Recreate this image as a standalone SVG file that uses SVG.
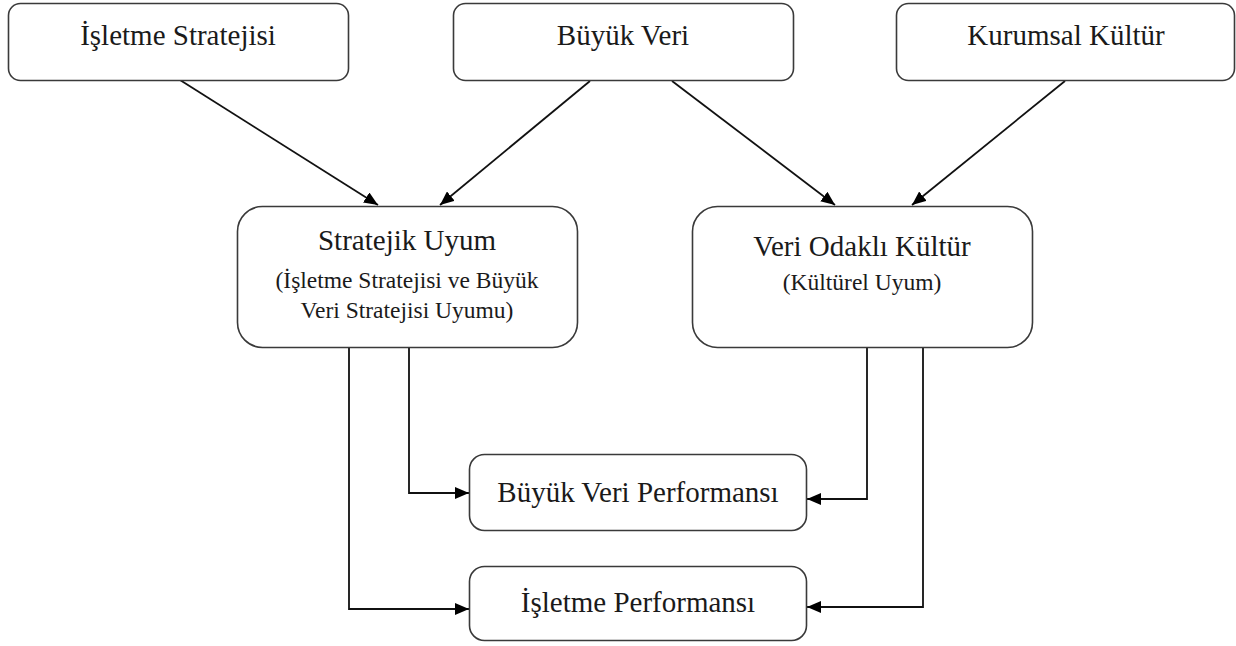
<svg xmlns="http://www.w3.org/2000/svg" width="1236" height="646" viewBox="0 0 1236 646">
<defs>
<style>
.box{fill:#fff;stroke:#3a3a3a;stroke-width:1.6}
.t{font-family:"Liberation Serif","Times New Roman",serif;fill:#1a1a1a;text-anchor:middle}
.big{font-size:29px}
.small{font-size:23.5px}
.c{fill:none;stroke:#111;stroke-width:1.8}
</style>
<marker id="ah" viewBox="0 0 14 12" refX="14" refY="6" markerWidth="14" markerHeight="12" markerUnits="userSpaceOnUse" orient="auto">
<path d="M0,0 L14,6 L0,12 z" fill="#000"/>
</marker>
</defs>
<rect width="1236" height="646" fill="#fff"/>
<g id="connectors">
<path class="c" d="M180,80 L378,205" marker-end="url(#ah)"/>
<path class="c" d="M590,81 L440,205" marker-end="url(#ah)"/>
<path class="c" d="M672,81 L835,205" marker-end="url(#ah)"/>
<path class="c" d="M1065,81 L912,205" marker-end="url(#ah)"/>
<path class="c" d="M409,348 L409,493 L469,493" marker-end="url(#ah)"/>
<path class="c" d="M349,348 L349,609 L469,609" marker-end="url(#ah)"/>
<path class="c" d="M867,348 L867,499 L807,499" marker-end="url(#ah)"/>
<path class="c" d="M923,348 L923,607 L807,607" marker-end="url(#ah)"/>
</g>
<g id="isletme-stratejisi">
<rect class="box" x="8.5" y="3.5" width="340" height="77" rx="12"/>
<text class="t big" x="178" y="45">İşletme Stratejisi</text>
</g>
<g id="buyuk-veri">
<rect class="box" x="453.5" y="3.5" width="340" height="77" rx="12"/>
<text class="t big" x="623" y="45">Büyük Veri</text>
</g>
<g id="kurumsal-kultur">
<rect class="box" x="896.5" y="3.5" width="338" height="77" rx="12"/>
<text class="t big" x="1066" y="45">Kurumsal Kültür</text>
</g>
<g id="stratejik-uyum">
<rect class="box" x="237.5" y="206.5" width="340" height="141" rx="25"/>
<text class="t big" x="407" y="250">Stratejik Uyum</text>
<text class="t small" x="407" y="288">(İşletme Stratejisi ve Büyük</text>
<text class="t small" x="407" y="318">Veri Stratejisi Uyumu)</text>
</g>
<g id="veri-odakli-kultur">
<rect class="box" x="692.5" y="206.5" width="340" height="141" rx="25"/>
<text class="t big" x="862" y="256">Veri Odaklı Kültür</text>
<text class="t small" x="862" y="290">(Kültürel Uyum)</text>
</g>
<g id="buyuk-veri-performansi">
<rect class="box" x="469.5" y="454.5" width="337" height="76" rx="15"/>
<text class="t big" x="638" y="502">Büyük Veri Performansı</text>
</g>
<g id="isletme-performansi">
<rect class="box" x="469.5" y="566.5" width="337" height="74" rx="15"/>
<text class="t big" x="638" y="612">İşletme Performansı</text>
</g>
</svg>
